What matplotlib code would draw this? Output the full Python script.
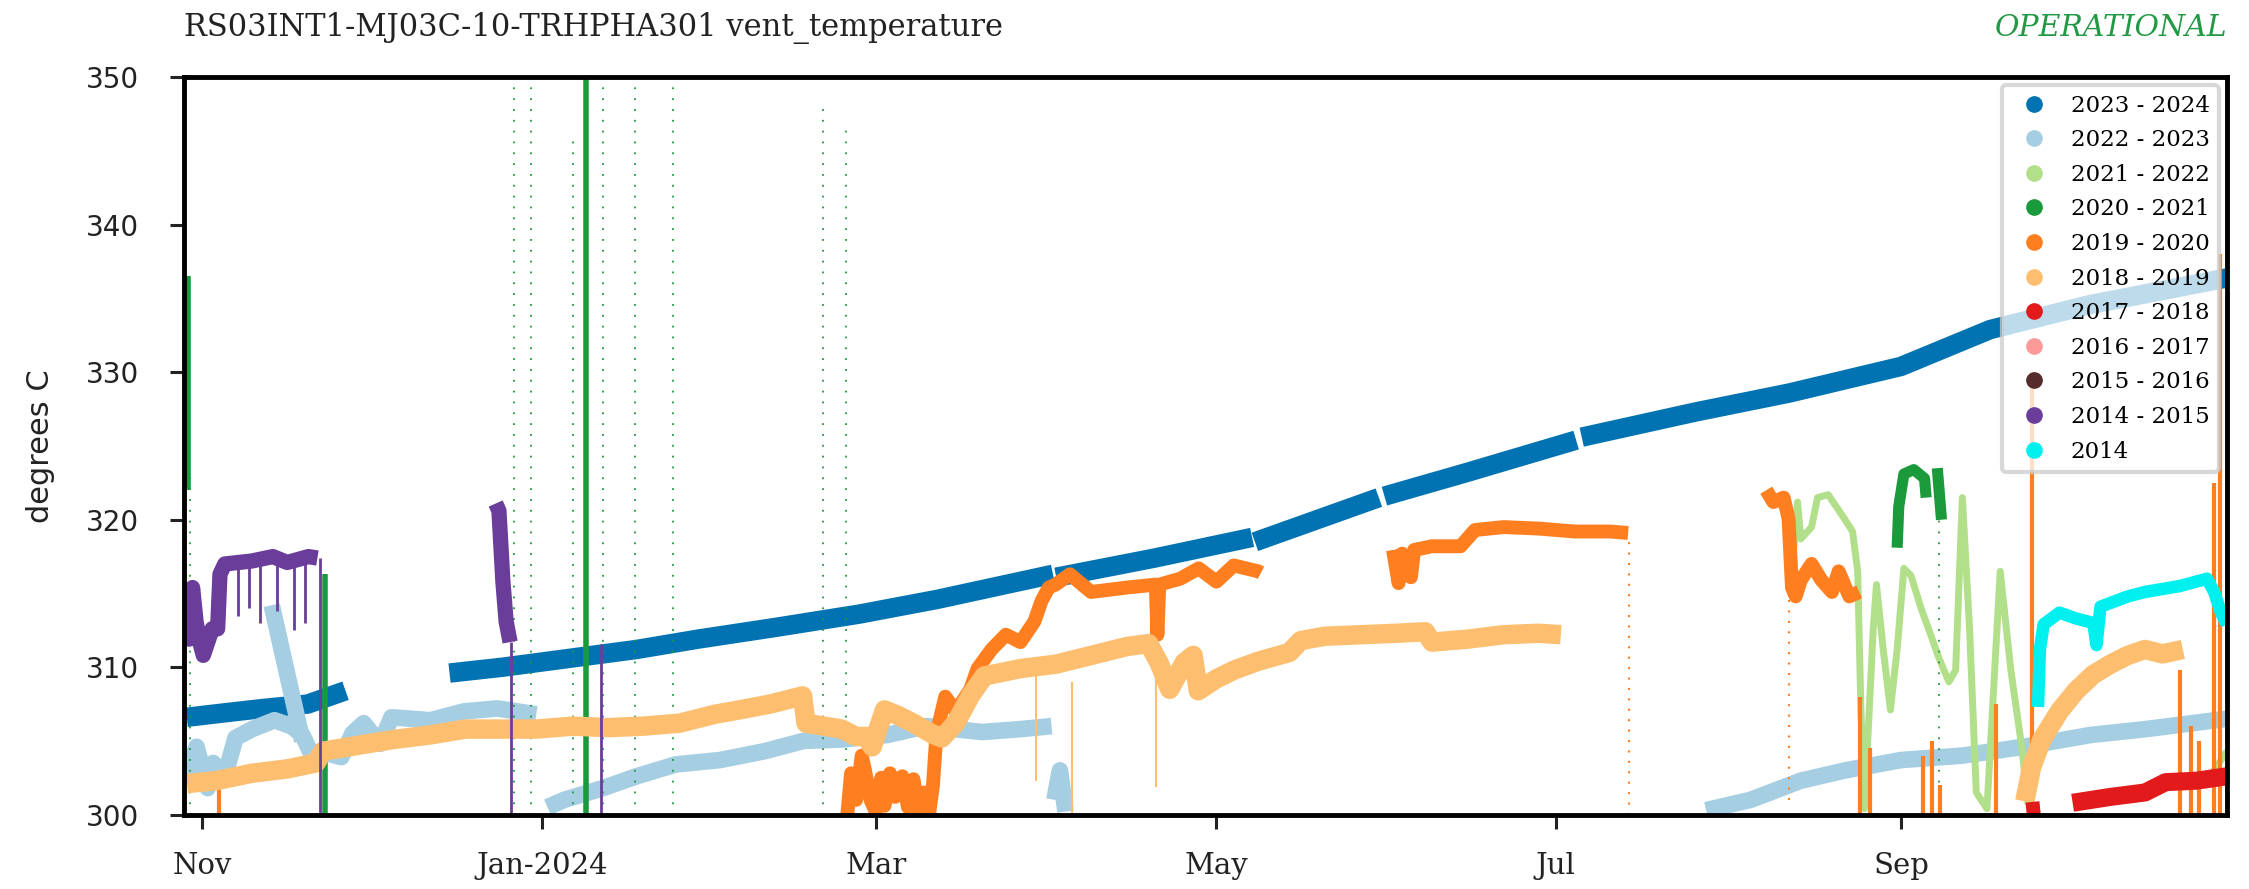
import numpy as np
import pandas as pd
import matplotlib
matplotlib.use("Agg")
import matplotlib.pyplot as plt
import matplotlib.dates as mdates
from matplotlib.lines import Line2D

plt.rcParams['font.family'] = ['DejaVu Serif']

labels = ["2023 - 2024", "2022 - 2023", "2021 - 2022", "2020 - 2021", "2019 - 2020",
          "2018 - 2019", "2017 - 2018", "2016 - 2017", "2015 - 2016", "2014 - 2015", "2014"]
colors = ["#0173b2", "#a6cee3", "#b2df8a", "#1a9a3a", "#ff7f20",
          "#fdbf6f", "#e31a1c", "#fb9a99", "#562b2b", "#6a3d9a", "#00f0f0"]

# ---- 2023 - 2024 (gaps marked with None)
t_2324 = ["2023-10-29 06:00", "2023-11-05", "2023-11-12", "2023-11-20", "2023-11-26 18:00", None,
          "2023-12-15 10:00", "2023-12-25", "2024-01-06", "2024-01-18", "2024-01-29", "2024-02-12",
          "2024-02-27", "2024-03-12", "2024-04-01 18:00", None,
          "2024-04-02 08:00", "2024-04-20", "2024-05-07 12:00", None,
          "2024-05-08", "2024-05-30 06:00", None,
          "2024-05-31 06:00", "2024-06-15", "2024-07-04 16:00", None,
          "2024-07-05 16:00", "2024-07-26", "2024-08-12", "2024-09-01", "2024-09-17", "2024-10-05",
          "2024-10-29 12:00"]
v_2324 = [306.6, 306.9, 307.2, 307.5, 308.4, None,
          309.6, 310.0, 310.6, 311.2, 311.9, 312.7, 313.6, 314.6, 316.3, None,
          316.1, 317.4, 318.8, None,
          318.5, 321.5, None,
          321.6, 323.2, 325.4, None,
          325.6, 327.3, 328.6, 330.4, 332.9, 334.6, 336.4]

# ---- 2022 - 2023
t_2223 = ["2023-10-29", "2023-10-30", "2023-10-31", "2023-11-02", "2023-11-03", "2023-11-05",
          "2023-11-07", "2023-11-10", "2023-11-14", "2023-11-17", "2023-11-19", "2023-11-21", None,
          "2023-11-13 12:00", "2023-11-16", "2023-11-19", None,
          "2023-11-23", "2023-11-26", "2023-11-28", "2023-11-30", "2023-12-03", "2023-12-05",
          "2023-12-12", "2023-12-18", "2023-12-24", "2023-12-31", None,
          "2024-01-02", "2024-01-05", "2024-01-12", "2024-01-18", "2024-01-25", "2024-02-02",
          "2024-02-10", "2024-02-17", "2024-02-24", "2024-03-03", "2024-03-10", "2024-03-20",
          "2024-03-27", "2024-04-01 12:00", None,
          "2024-04-02", "2024-04-03", "2024-04-04", None,
          "2024-07-28", "2024-08-05", "2024-08-14", "2024-08-22", "2024-09-01", "2024-09-12",
          "2024-09-23", "2024-10-05", "2024-10-15", "2024-10-29 12:00"]
v_2223 = [304.5, 303.0, 304.6, 301.8, 303.5, 302.5, 305.2, 305.8, 306.4, 306.0, 305.4, 303.8, None,
          314.2, 310.0, 305.0, None,
          304.2, 303.9, 305.5, 306.2, 304.8, 306.6, 306.4, 307.0, 307.2, 306.8, None,
          300.5, 301.0, 301.8, 302.6, 303.4, 303.7, 304.3, 305.0, 305.1, 305.4, 306.0, 305.6,
          305.8, 306.0, None,
          301.0, 303.0, 300.2, None,
          300.3, 301.0, 302.3, 303.0, 303.7, 304.0, 304.6, 305.4, 305.8, 306.5]

# ---- 2021 - 2022
t_2122 = ["2024-08-12 18:00", "2024-08-13 10:00", "2024-08-14", "2024-08-15 22:00", "2024-08-17",
          "2024-08-18 22:00", "2024-08-21 10:00", "2024-08-23 07:00", "2024-08-24 05:00",
          "2024-08-24 19:00", "2024-08-25 10:00", "2024-08-27", "2024-08-27 14:00", "2024-08-28 19:00",
          "2024-08-30 02:00", "2024-08-31 07:00", "2024-09-01 12:00", "2024-09-02 19:00",
          "2024-09-04 14:00", "2024-09-06 12:00", "2024-09-07 17:00", "2024-09-09 14:00",
          "2024-09-10 19:00", "2024-09-12", "2024-09-13 07:00", "2024-09-14 12:00", "2024-09-16 10:00",
          "2024-09-18 19:00", "2024-09-20 17:00", "2024-09-22 14:00", "2024-09-23 19:00", None,
          "2024-10-25 22:00", "2024-10-29 12:00"]
v_2122 = [318.1, 321.2, 318.7, 319.5, 321.5, 321.7, 320.3, 319.2, 316.5, 307.1, 300.4, 312.6,
          315.6, 311.2, 307.1, 311.2, 316.7, 316.2, 314.0, 312.0, 310.7, 309.0, 309.8, 321.5,
          312.6, 301.5, 300.4, 316.5, 309.8, 304.8, 300.7, None,
          302.3, 304.3]

# ---- 2020 - 2021
t_2021 = ["2024-08-31 07:00", "2024-08-31 14:00", "2024-09-01 12:00", "2024-09-03 07:00",
          "2024-09-05 05:00", "2024-09-05 12:00", None, "2024-09-07 12:00", "2024-09-08 06:00"]
v_2021 = [318.1, 320.9, 323.1, 323.4, 322.8, 321.5, None, 323.5, 320.0]
t_2021_dense = ["2023-10-29 12:00", "2023-11-23", "2024-01-09"]
lo_2021_dense = [322.0, 300.0, 300.0]
hi_2021_dense = [336.5, 316.3, 350.0]
t_2021_sparse = ["2023-10-29 20:00", "2023-12-27", "2023-12-30", "2024-01-06 12:00", "2024-01-12",
                 "2024-01-17 16:00", "2024-01-24 12:00", "2024-02-20 12:00", "2024-02-24 14:00",
                 "2024-09-07 18:00"]
lo_2021_sparse = [300.0, 300.0, 300.0, 300.0, 300.0, 300.0, 300.0, 300.0, 300.0, 300.0]
hi_2021_sparse = [323.0, 350.0, 350.0, 346.0, 350.0, 350.0, 350.0, 348.0, 347.0, 320.0]

# ---- 2019 - 2020
t_1920 = ["2024-02-24 20:00", "2024-02-25 12:00", "2024-02-26 10:00", "2024-02-27 10:00", "2024-02-28",
          "2024-02-29", "2024-02-29 22:00", "2024-03-01 22:00", "2024-03-02 12:00", "2024-03-03 12:00",
          "2024-03-04 10:00", "2024-03-05 17:00", "2024-03-06 17:00", "2024-03-07 17:00",
          "2024-03-08 14:00", "2024-03-09 14:00", "2024-03-10 12:00", "2024-03-11 05:00",
          "2024-03-11 20:00", "2024-03-13 10:00", "2024-03-15 07:00", "2024-03-17 22:00",
          "2024-03-19 05:00", "2024-03-21 17:00", "2024-03-24 07:00", "2024-03-26 22:00",
          "2024-03-29 10:00", "2024-03-30 17:00", "2024-04-01", "2024-04-02 05:00", "2024-04-04 19:00",
          "2024-04-08 14:00", "2024-04-15", "2024-04-20 05:00", "2024-04-20 12:00", "2024-04-20 20:00",
          "2024-04-24 14:00", "2024-04-27 22:00", "2024-05-01 02:00", "2024-05-04 05:00",
          "2024-05-08 14:00", "2024-05-09 02:00", None,
          "2024-06-01 19:00", "2024-06-02 19:00", "2024-06-03 10:00", "2024-06-05", "2024-06-05 14:00",
          "2024-06-08 19:00", "2024-06-13 22:00", "2024-06-16 12:00", "2024-06-21 14:00", "2024-06-28",
          "2024-07-04 10:00", "2024-07-10 19:00", "2024-07-14", None,
          "2024-08-07 19:00", "2024-08-09 02:00", "2024-08-10 22:00", "2024-08-11 19:00",
          "2024-08-12 10:00", "2024-08-13 02:00", "2024-08-14", "2024-08-15 22:00", "2024-08-17 17:00",
          "2024-08-19 14:00", "2024-08-20 19:00", "2024-08-22 17:00", "2024-08-24 12:00"]
v_1920 = [300.0, 302.8, 301.0, 304.0, 303.0, 301.0, 300.2, 302.5, 300.6, 302.8, 301.2, 302.6, 300.5,
          302.4, 300.3, 301.5, 300.0, 302.0,
          305.5, 308.0, 307.0, 308.5, 309.9, 311.2, 312.2, 311.7, 313.1, 314.5, 315.4, 315.6, 316.3,
          315.1, 315.4, 315.6, 312.2, 315.6, 316.0, 316.7, 315.8, 316.9, 316.5, 316.4, None,
          317.95, 315.7, 317.7, 316.1, 317.95, 318.2, 318.2, 319.3, 319.5, 319.4, 319.2, 319.2,
          319.1, None,
          322.0, 321.2, 321.5, 320.1, 315.4, 314.8, 315.9, 317.0, 315.9, 315.1, 316.5, 314.8, 315.1]
t_1920_spikes = ["2023-11-04", "2024-08-24 14:00", "2024-08-26 12:00", "2024-09-05", "2024-09-06 12:00",
                 "2024-09-08", "2024-09-18", "2024-09-24 12:00", "2024-10-21", "2024-10-23",
                 "2024-10-24 12:00", "2024-10-27 06:00", "2024-10-28 06:00"]
hi_1920_spikes = [302.5, 308.0, 304.5, 304.0, 305.0, 302.0, 307.5, 330.0, 309.8, 306.0, 305.0,
                  322.5, 338.0]
t_1920_trail = ["2024-07-14 02:00", "2024-08-11 20:00"]
lo_1920_trail = [300.0, 301.0]
hi_1920_trail = [319.0, 320.5]

# ---- 2018 - 2019
t_1819 = ["2023-10-29 07:00", "2023-11-03 12:00", "2023-11-09 22:00", "2023-11-16 07:00",
          "2023-11-21 10:00", "2023-11-22 17:00", "2023-11-29", "2023-12-05 12:00", "2023-12-11 22:00",
          "2023-12-18 07:00", "2023-12-26", "2023-12-31", "2024-01-06 12:00", "2024-01-12 22:00",
          "2024-01-19 07:00", "2024-01-25 17:00", "2024-02-01", "2024-02-05 10:00", "2024-02-11",
          "2024-02-16 19:00", "2024-02-17 10:00", "2024-02-20 16:00", "2024-02-23 20:00",
          "2024-02-26 10:00", "2024-02-28 07:00", "2024-02-29 07:00", "2024-03-02 12:00",
          "2024-03-05 02:00", "2024-03-07 17:00", "2024-03-10 22:00", "2024-03-12 19:00",
          "2024-03-15 07:00", "2024-03-17 22:00", "2024-03-20 10:00", "2024-03-26 20:00",
          "2024-04-02 06:00", "2024-04-08 16:00", "2024-04-15", "2024-04-18 22:00", "2024-04-20 19:00",
          "2024-04-22 17:00", "2024-04-25 07:00", "2024-04-26 22:00", "2024-04-27 20:00",
          "2024-05-01 01:00", "2024-05-04 06:00", "2024-05-08 14:00", "2024-05-14 05:00",
          "2024-05-16 05:00", "2024-05-20 14:00", "2024-05-27", "2024-06-02 10:00", "2024-06-07 14:00",
          "2024-06-08 19:00", "2024-06-15 05:00", "2024-06-21 14:00", "2024-06-28", "2024-07-01 22:00",
          None,
          "2024-09-23 05:00", "2024-09-24 10:00", "2024-09-26 07:00", "2024-09-29 10:00",
          "2024-10-02 10:00", "2024-10-05 12:00", "2024-10-08 14:00", "2024-10-11 17:00",
          "2024-10-14 19:00", "2024-10-17 22:00", "2024-10-21 14:00"]
v_1819 = [302.1, 302.3, 302.8, 303.1, 303.5, 304.3, 304.7, 305.1, 305.4, 305.8, 305.8, 305.8, 306.0,
          305.9, 306.0, 306.2, 306.8, 307.1, 307.5, 308.05, 306.2, 306.0, 305.8, 305.3, 305.3, 304.6,
          307.1, 306.7, 306.2, 305.5, 305.2, 306.2, 308.05, 309.4, 309.9, 310.2, 310.8, 311.4, 311.6,
          310.3, 308.5, 310.3, 310.8, 308.4, 309.2, 309.8, 310.4, 311.0, 311.8, 312.1, 312.2, 312.3,
          312.4, 311.7, 311.9, 312.2, 312.3, 312.2, None,
          300.9, 303.2, 305.1, 307.0, 308.4, 309.5, 310.2, 310.8, 311.2, 310.9, 311.2]
t_1819_drops = ["2024-03-29 16:00", "2024-04-05 05:00", "2024-04-20 05:00"]
lo_1819_drops = [302.3, 300.0, 301.9]
hi_1819_drops = [309.5, 309.0, 311.5]

# ---- 2017 - 2018
t_1718 = ["2024-09-23 12:00", "2024-09-26", None, "2024-10-01 19:00", "2024-10-08 14:00",
          "2024-10-14 19:00", "2024-10-18 12:00", "2024-10-24 02:00", "2024-10-29 12:00"]
v_1718 = [300.2, 300.3, None, 300.8, 301.2, 301.5, 302.2, 302.3, 302.6]

# ---- 2014 - 2015
t_1415 = ["2023-10-29 07:00", "2023-10-29 16:00", "2023-10-30 07:00", "2023-10-30 22:00",
          "2023-10-31 14:00", "2023-11-01 05:00", "2023-11-02 05:00", "2023-11-02 19:00",
          "2023-11-03 19:00", "2023-11-04 05:00", "2023-11-05 02:00", "2023-11-09 22:00",
          "2023-11-13 17:00", "2023-11-16 07:00", "2023-11-20 02:00", "2023-11-21 17:00", None,
          "2023-12-23 17:00", "2023-12-24 07:00", "2023-12-25 00:00", "2023-12-25 14:00",
          "2023-12-26 07:00"]
v_1415 = [315.6, 311.9, 315.4, 313.1, 311.7, 310.8, 311.9, 312.6, 312.6, 316.3, 317.0, 317.2, 317.5,
          317.1, 317.5, 317.4, None,
          321.1, 320.6, 315.8, 313.1, 311.7]
t_1415_drops = ["2023-11-07 12:00", "2023-11-09 08:00", "2023-11-11 08:00", "2023-11-14 12:00",
                "2023-11-17 12:00", "2023-11-19 10:00", "2023-11-22 04:00", "2023-12-26 12:00",
                "2024-01-11 14:00"]
lo_1415_drops = [313.5, 314.0, 313.0, 313.8, 312.5, 313.0, 300.0, 300.0, 300.0]
hi_1415_drops = [317.0, 317.0, 317.2, 317.3, 317.2, 317.3, 317.4, 311.7, 311.6]

# ---- 2014
t_2014 = ["2024-09-25 14:00", "2024-09-25 22:00", "2024-09-26 14:00", "2024-09-29 10:00",
          "2024-10-02 10:00", "2024-10-05 12:00", "2024-10-06 02:00", "2024-10-06 19:00",
          "2024-10-11 17:00", "2024-10-14 19:00", "2024-10-21", "2024-10-25 22:00", "2024-10-27 05:00",
          "2024-10-28 10:00", "2024-10-29 12:00"]
v_2014 = [307.3, 311.2, 312.9, 313.7, 313.3, 313.0, 311.5, 314.1, 314.8, 315.1, 315.5, 316.0, 315.1,
          313.7, 312.9]


def to_dates(ts):
    return [pd.Timestamp(t) for t in ts]


def pieces(ts, vs):
    out, cur_t, cur_v = [], [], []
    for t, v in zip(ts, vs):
        if t is None:
            out.append((cur_t, cur_v))
            cur_t, cur_v = [], []
        else:
            cur_t.append(pd.Timestamp(t))
            cur_v.append(v)
    out.append((cur_t, cur_v))
    return out


def band(ax, ts, vs, color, lw):
    for pt, pv in pieces(ts, vs):
        ax.plot(pt, pv, color=color, lw=lw, solid_capstyle='butt', solid_joinstyle='round')


def streaks(ax, ts, lo, hi, color, lw, ls='-'):
    ax.vlines(mdates.date2num(to_dates(ts)), lo, hi, color=color, lw=lw, linestyles=ls)


fig = plt.figure(figsize=(22.49, 8.89), dpi=100)
ax = fig.add_axes([0.0816, 0.0837, 0.9086, 0.8292])

band(ax, t_2324, v_2324, colors[0], 14)
band(ax, t_2223, v_2223, colors[1], 12)
band(ax, t_2122, v_2122, colors[2], 5)
band(ax, t_2021, v_2021, colors[3], 8)
streaks(ax, t_2021_dense, lo_2021_dense, hi_2021_dense, colors[3], 4)
streaks(ax, t_2021_sparse, lo_2021_sparse, hi_2021_sparse, colors[3], 1.3, (0, (1, 5)))
band(ax, t_1920, v_1920, colors[4], 10)
streaks(ax, t_1920_spikes, 300, hi_1920_spikes, colors[4], 3)
streaks(ax, t_1920_trail, lo_1920_trail, hi_1920_trail, colors[4], 1.5, (0, (1, 4)))
band(ax, t_1819, v_1819, colors[5], 14)
streaks(ax, t_1819_drops, lo_1819_drops, hi_1819_drops, colors[5], 1.5)
band(ax, t_1718, v_1718, colors[6], 13)
band(ax, t_1415, v_1415, colors[9], 11)
streaks(ax, t_1415_drops, lo_1415_drops, hi_1415_drops, colors[9], 2)
band(ax, t_2014, v_2014, colors[10], 9)

ax.set_xlim(pd.Timestamp("2023-10-28 16:00"), pd.Timestamp("2024-10-29 12:00"))
ax.set_ylim(300, 350)
ax.set_yticks([300, 310, 320, 330, 340, 350])

ax.xaxis.set_major_locator(mdates.MonthLocator(bymonth=[1, 3, 5, 7, 9, 11]))


def month_fmt(x, pos=None):
    d = mdates.num2date(x)
    return d.strftime('%b-%Y') if d.month == 1 else d.strftime('%b')


ax.xaxis.set_major_formatter(plt.FuncFormatter(month_fmt))

for s in ax.spines.values():
    s.set_linewidth(3.5)
ax.tick_params(axis='both', direction='out', length=10, width=2.2, colors='#222222')
ax.tick_params(axis='x', pad=17, labelsize=21)
ax.tick_params(axis='y', pad=22, labelsize=20)
for lab in ax.get_yticklabels():
    lab.set_family('DejaVu Sans')

ax.set_ylabel('degrees C', fontsize=22, labelpad=22, family='DejaVu Sans', color='#222222')
ax.set_title('RS03INT1-MJ03C-10-TRHPHA301 vent_temperature', loc='left', fontsize=22, pad=30,
             color='#222222')
ax.set_title('OPERATIONAL', loc='right', fontsize=21.5, pad=30, color='#229944', fontstyle='italic')

handles = [Line2D([], [], marker='o', ls='none', color=c, markersize=11) for c in colors]
leg = ax.legend(handles, labels, loc='upper right', fontsize=16.5, framealpha=0.75,
                edgecolor='#cccccc', borderaxespad=0.35, handletextpad=0.62, labelspacing=0.55)
leg.get_frame().set_linewidth(3)

fig.savefig('out.png', dpi=100)
